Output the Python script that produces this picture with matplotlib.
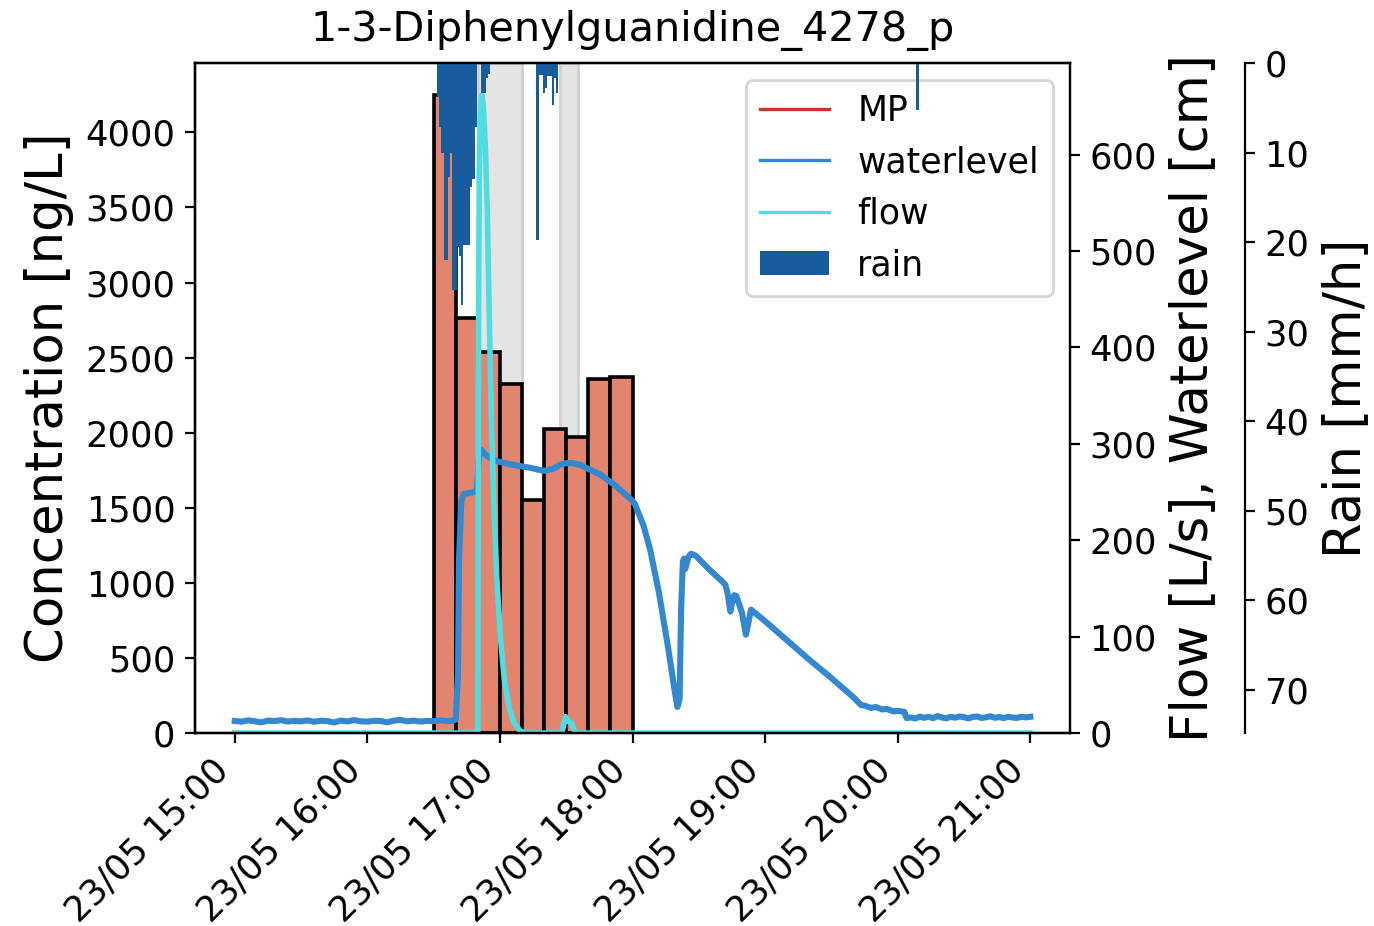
"""
Event plot: MP concentration bars with waterlevel, flow and rain
"""

import datetime as dt
import matplotlib
matplotlib.use('Agg')
import matplotlib.pyplot as plt
import matplotlib.dates as mdates
from matplotlib.lines import Line2D
from matplotlib.patches import Patch

title = '1-3-Diphenylguanidine_4278_p'
t0 = dt.datetime(2023, 5, 23, 15, 0)

# MP composite samples (10 min each), start time in minutes after 15:00
mp_start = [90, 100, 110, 120, 130, 140, 150, 160, 170]
mp_conc = [4250, 2765, 2535, 2325, 1555, 2025, 1970, 2355, 2370]

# grey windows, minutes after 15:00
windows = [(109.9, 130.0), (147.4, 155.2)]

# waterlevel [cm]
wl_min = [0, 3, 6, 9, 12, 15, 18, 21, 24, 27, 30, 33, 36, 39, 42, 45, 48, 51,
          54, 57, 60, 63, 66, 69, 72, 75, 78, 81, 84, 87, 90, 93, 96, 99,
          100, 101, 101.5, 102.5, 103.5, 108.5, 109.5, 110.5, 111.5, 113, 115,
          118.7, 124, 129, 134, 139.7, 144, 147, 150, 153, 156.5, 160, 165.5,
          172, 179, 181, 185, 188, 192, 196, 199, 200.3, 201.3, 202, 202.8,
          203.3, 203.8, 204.3, 205.4, 206.5, 208.6, 215, 220.7, 222, 223,
          224.3, 225, 226, 227, 229.5, 231.3, 232.5, 233.6, 240, 250, 260, 270,
          280, 283.4, 285, 288, 290, 293, 295, 298, 300, 303, 304,
          306, 308, 310, 312, 314, 316, 318, 320, 322, 324, 326, 328, 330, 332,
          334, 336, 338, 340, 342, 344, 346, 348, 350, 352, 354, 356, 358, 360]
wl_cm = [12.5, 11.8, 13.1, 12.2, 11.0, 12.9, 12.4, 13.3, 11.9, 12.6, 12.1, 13.0,
         11.7, 12.8, 12.3, 10.9, 12.9, 12.0, 13.4, 12.2, 11.8, 12.7, 12.5, 11.1,
         12.9, 13.6, 12.1, 12.8, 11.9, 12.6, 12.3, 13.1, 12.4, 12.8,
         14, 60, 180, 240, 248, 250, 252, 285, 294, 290, 286,
         282, 279, 277, 275, 272, 274, 278, 280, 280, 278, 274, 268,
         257, 243, 238, 215, 190, 145, 90, 45, 27, 35, 130, 178,
         181, 170, 174, 183, 186, 184, 169, 157, 154, 145,
         126, 135, 143, 142, 125, 102, 115, 128, 116, 96, 76, 57,
         37, 29, 28.5, 26, 27, 24.5, 25, 22.5, 23, 22, 15.5,
         16.2, 15.1, 17.0, 15.8, 16.9, 15.4, 17.6, 16.1, 15.3, 16.8, 15.9, 17.2,
         16.4, 15.2, 16.7, 17.1, 15.6, 16.3, 17.4, 15.8, 16.6, 15.5, 16.9, 16.1,
         15.7, 17.0, 16.2, 16.8]

# flow [L/s]
flow_min = [0, 60, 110.0, 110.2, 110.35, 110.65, 111.1, 111.8, 112.5, 113.4,
            114.3, 115.2, 116.1, 117.2, 118.6, 120.2, 122.0, 124.3, 126.5,
            129.2, 131.5, 148.0, 149.7, 151.0, 152.5, 154.0, 200, 360]
flow_ls = [0, 0, 0, 250, 450, 580, 640, 662, 650, 610,
           540, 430, 330, 240, 160, 100, 55, 25, 10,
           2, 0, 0, 17, 12, 10, 0, 0, 0]

# rain [mm/h], one minute intervals
rain_min = [92, 93, 94, 95, 96, 97, 98, 99, 100, 101, 102, 103, 104, 105, 106,
            107, 108, 109, 112, 113, 114, 115,
            137, 138, 139, 140, 141, 142, 143, 144, 145, 146, 309]
rain_mmh = [3.8, 7.1, 10, 22, 22, 12.7, 10, 25.3, 25.3, 20.5, 21.6, 27, 20.3,
            20.3, 20.3, 13.8, 13, 7.1, 3.4, 3.4, 1.7, 1.2,
            19.8, 1.3, 1.3, 3.4, 2.8, 1.5, 1.5, 4.7, 1.7, 3.4, 5.2]


def at(minutes):
    return [t0 + dt.timedelta(minutes=m) for m in minutes]


c_bar = '#e2856e'
c_mp = '#c1392b'
c_wl = '#3388d0'
c_flow = '#4fdde3'
c_rain = '#185c9e'

fig, ax = plt.subplots(figsize=(6.87, 4.63), dpi=200)
fig.subplots_adjust(left=0.1419, right=0.7788, bottom=0.2084, top=0.932)

for a, b in windows:
    ax.axvspan(t0 + dt.timedelta(minutes=a), t0 + dt.timedelta(minutes=b),
               facecolor='#e4e4e4', edgecolor='#d0d0d0', lw=1, zorder=0)

ax.bar(at(mp_start), mp_conc, width=dt.timedelta(minutes=10), align='edge',
       color=c_bar, edgecolor='black', linewidth=1.3, zorder=2)
ax.set_ylim(0, max(mp_conc) * 1.05)
ax.set_yticks(range(0, 4001, 500))
ax.set_ylabel('Concentration [ng/L]', fontsize=18.5)
ax.set_title(title, fontsize=14.9, pad=8)

ax2 = ax.twinx()
ax2.plot(at(wl_min), wl_cm, color=c_wl, lw=2.2)
ax2.plot(at(flow_min), flow_ls, color=c_flow, lw=2.0)
ax2.set_ylim(0, max(flow_ls) * 1.05)
ax2.set_ylabel('Flow [L/s], Waterlevel [cm]', fontsize=18.5)

ax3 = ax.twinx()
ax3.spines['right'].set_position(('axes', 1.2))
ax3.bar(at(rain_min), rain_mmh, width=dt.timedelta(minutes=1), color=c_rain)
ax3.set_ylim(74.8, 0)
ax3.set_yticks(range(0, 71, 10))
ax3.set_ylabel('Rain [mm/h]', fontsize=18.5)

for a in (ax, ax2, ax3):
    a.tick_params(labelsize=12.7)

ax.set_xlim(t0 - dt.timedelta(minutes=18), t0 + dt.timedelta(minutes=378))
ax.xaxis.set_major_locator(mdates.HourLocator())
ax.xaxis.set_major_formatter(mdates.DateFormatter('%d/%m %H:%M'))
plt.setp(ax.get_xticklabels(), rotation=45, ha='right')

handles = [Line2D([0], [0], color=c_mp, lw=1.2),
           Line2D([0], [0], color=c_wl, lw=1.2),
           Line2D([0], [0], color=c_flow, lw=1.2),
           Patch(facecolor=c_rain)]
ax.legend(handles, ['MP', 'waterlevel', 'flow', 'rain'], loc='upper right',
          fontsize=12.5)

fig.savefig('out.png', dpi=200)
plt.close(fig)
